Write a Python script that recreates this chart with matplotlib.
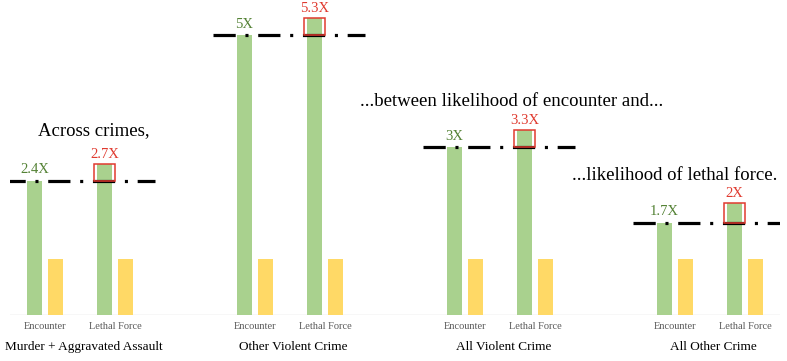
import matplotlib
matplotlib.use("Agg")
import matplotlib.pyplot as plt
from matplotlib.patches import Rectangle

plt.rcParams['font.family'] = ['Liberation Serif', 'DejaVu Serif']
plt.rcParams['lines.scale_dashes'] = False

groups = ["Murder + Aggravated Assault", "Other Violent Crime", "All Violent Crime", "All Other Crime"]
subcats = ["Encounter", "Lethal Force"]
encounter_ratio = [2.4, 5.0, 3.0, 1.65]
lethal_ratio = [2.7, 5.3, 3.3, 2.0]
baseline = [1, 1, 1, 1]
enc_labels = ["2.4X", "5X", "3X", "1.7X"]
leth_labels = ["2.7X", "5.3X", "3.3X", "2X"]

GREEN = "#a9d18e"
YELLOW = "#ffd966"
TGREEN = "#548235"
RED = "#e03a2f"

fig = plt.figure(figsize=(7.87, 3.61), dpi=100)
ax = fig.add_axes([10/787, 46/361, 770/787, 315/361])

w = 0.21
off = 0.15
for i in range(len(groups)):
    base = 3 * i
    xe, xl = base, base + 1
    ax.bar([xe - off, xl - off], [encounter_ratio[i], lethal_ratio[i]], width=w, color=GREEN, zorder=2)
    ax.bar([xe + off, xl + off], [baseline[i], baseline[i]], width=w, color=YELLOW, zorder=2)
    # dash-dot line at encounter level
    ax.plot([base - 0.6, base + 1.57], [encounter_ratio[i]] * 2, color="black", lw=2.3,
            dashes=(16, 7, 2.2, 7), zorder=3, dash_capstyle='butt')
    # red box for lethal increment
    bw = 0.31
    ax.add_patch(Rectangle((xl - off - bw/2, encounter_ratio[i]), bw, lethal_ratio[i] - encounter_ratio[i],
                           fill=False, edgecolor=RED, lw=1.1, zorder=4))
    ax.annotate(enc_labels[i], (xe - off, encounter_ratio[i]), xytext=(0, 3), textcoords='offset points',
                ha='center', va='bottom', color=TGREEN, fontsize=10.5)
    ax.annotate(leth_labels[i], (xl - off, lethal_ratio[i]), xytext=(0, 2), textcoords='offset points',
                ha='center', va='bottom', color=RED, fontsize=10.5)
    for j, s in enumerate(subcats):
        ax.text(base + j, -0.2, s, ha='center', va='center', fontsize=7.5, color="#595959")
    ax.text(base + 0.55, -0.57, groups[i], ha='center', va='center', fontsize=9.5, color="black")

ax.text(0.7, 3.3, "Across crimes,", ha='center', va='center', fontsize=13.5)
ax.text(6.67, 3.82, "...between likelihood of encounter and...", ha='center', va='center', fontsize=13.5)
ax.text(9.0, 2.49, "...likelihood of lethal force.", ha='center', va='center', fontsize=13.5)

ax.set_xlim(-0.5, 10.5)
ax.set_ylim(0, 315/56)
ax.axhline(0, color="#d9d9d9", lw=1, zorder=1)
for s in ax.spines.values():
    s.set_visible(False)
ax.set_xticks([])
ax.set_yticks([])

fig.savefig("out.png", dpi=100)
